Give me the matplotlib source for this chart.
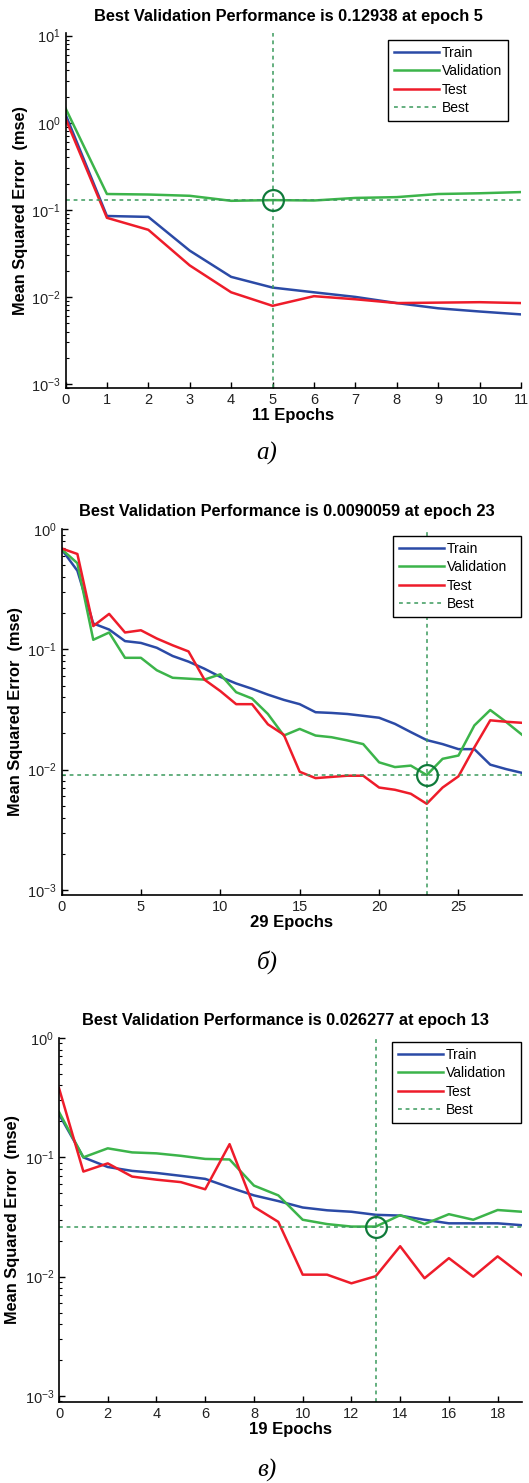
import numpy as np
import matplotlib.pyplot as plt
from matplotlib.lines import Line2D

plt.rcParams['font.family'] = ['Liberation Sans', 'DejaVu Sans']

# panel a) - 11 epochs
train_a = [1.25, 0.085, 0.083, 0.034, 0.017, 0.0128, 0.0113, 0.0100, 0.0085, 0.0074, 0.0068, 0.0063]
val_a = [1.47, 0.152, 0.150, 0.145, 0.127, 0.12938, 0.128, 0.137, 0.140, 0.152, 0.155, 0.160]
test_a = [1.12, 0.081, 0.059, 0.023, 0.0113, 0.0079, 0.0102, 0.0094, 0.0085, 0.0086, 0.0087, 0.0085]
best_a = (5, 0.12938)

# panel б) - 29 epochs
train_b = [0.68, 0.45, 0.164, 0.146, 0.117, 0.113, 0.103, 0.088, 0.079, 0.069,
           0.059, 0.052, 0.047, 0.042, 0.038, 0.035, 0.030, 0.0296, 0.029, 0.028,
           0.027, 0.024, 0.0205, 0.0176, 0.0163, 0.0148, 0.0148, 0.0110, 0.0101, 0.0094]
val_b = [0.68, 0.52, 0.120, 0.138, 0.085, 0.085, 0.067, 0.058, 0.057, 0.056,
         0.062, 0.044, 0.039, 0.029, 0.0192, 0.0218, 0.0192, 0.0186, 0.0175, 0.0163,
         0.0115, 0.0105, 0.0108, 0.0090059, 0.0123, 0.0131, 0.0233, 0.0313, 0.0249, 0.0195]
test_b = [0.69, 0.62, 0.156, 0.197, 0.138, 0.144, 0.123, 0.108, 0.096, 0.056,
          0.045, 0.035, 0.035, 0.0238, 0.0195, 0.0096, 0.0085, 0.0087, 0.0089, 0.0089,
          0.0071, 0.0068, 0.0063, 0.0052, 0.0071, 0.0088, 0.0153, 0.0257, 0.0250, 0.0245]
best_b = (23, 0.0090059)

# panel в) - 19 epochs
train_c = [0.23, 0.100, 0.083, 0.077, 0.074, 0.070, 0.066, 0.056, 0.048, 0.043,
           0.038, 0.036, 0.035, 0.033, 0.0325, 0.030, 0.028, 0.028, 0.028, 0.027]
val_c = [0.24, 0.100, 0.119, 0.110, 0.108, 0.103, 0.097, 0.096, 0.058, 0.048,
         0.030, 0.0276, 0.0263, 0.026277, 0.0328, 0.0276, 0.0334, 0.030, 0.0362, 0.035]
test_c = [0.38, 0.076, 0.089, 0.069, 0.065, 0.062, 0.054, 0.129, 0.0385, 0.0288,
          0.0104, 0.0104, 0.0088, 0.0101, 0.018, 0.0097, 0.0143, 0.010, 0.0148, 0.0103]
best_c = (13, 0.026277)

TRAIN_C = '#2b4aa6'
VAL_C = '#3cb44a'
TEST_C = '#ee1c2a'
BEST_C = '#3a9a5c'
CIRCLE_C = '#0f7a3a'

W, H = 529, 1483
fig = plt.figure(figsize=(W / 100, H / 100), dpi=100)
fig.patch.set_facecolor('white')


def px_rect(left, right, top, bottom):
    return [left / W, 1 - bottom / H, (right - left) / W, (bottom - top) / H]


def plot_perf(ax, train, val, test, best, title, xticks, ylim, leg_px, ylab_px):
    ep = np.arange(len(train))
    ax.plot(ep, train, color=TRAIN_C, lw=1.8)
    ax.plot(ep, val, color=VAL_C, lw=1.8)
    ax.plot(ep, test, color=TEST_C, lw=1.8)
    ax.axhline(best[1], color=BEST_C, lw=1.1, ls=(0, (2.5, 2.5)))
    ax.axvline(best[0], color=BEST_C, lw=1.1, ls=(0, (2.5, 2.5)))
    ax.plot([best[0]], [best[1]], 'o', ms=15, mfc='none', mec=CIRCLE_C, mew=1.6)

    ax.set_yscale('log')
    ax.set_ylim(*ylim)
    ax.set_xlim(0, len(train) - 1)
    ax.set_xticks(xticks)
    ax.spines['top'].set_visible(False)
    ax.spines['right'].set_visible(False)
    ax.spines['left'].set_linewidth(1.2)
    ax.spines['bottom'].set_linewidth(1.2)
    ax.tick_params(direction='in', labelsize=10.5, length=4, width=1, labelcolor='#222222')
    ax.tick_params(which='minor', direction='in', length=2.5, width=0.8)
    ax.tick_params(axis='x', which='minor', bottom=False)

    ax.set_title(title, fontsize=11.8, fontweight='bold', pad=9, x=0.49)
    ax.set_xlabel(f'{len(train) - 1} Epochs', fontsize=12, fontweight='bold', labelpad=1)
    ax.set_ylabel('Mean Squared Error  (mse)', fontsize=11.8, fontweight='bold')
    # right edge of the rotated label sits at ylab_px (figure pixels)
    x_ax = ax.transAxes.inverted().transform(fig.transFigure.transform((ylab_px / W, 0)))[0]
    ax.yaxis.set_label_coords(x_ax, 0.5)

    # legend box given in figure pixels: left, right, top
    x0, x1, top = leg_px
    handles = [Line2D([], [], color=TRAIN_C, lw=1.8),
               Line2D([], [], color=VAL_C, lw=1.8),
               Line2D([], [], color=TEST_C, lw=1.8),
               Line2D([], [], color=BEST_C, lw=1.1, ls=(0, (2.5, 2.5)))]
    leg = ax.legend(handles, ['Train', 'Validation', 'Test', 'Best'],
                    loc='upper left',
                    bbox_to_anchor=(x0 / W, 1 - top / H - 0.001, (x1 - x0) / W, 0.001),
                    bbox_transform=fig.transFigure, mode='expand', fontsize=10,
                    fancybox=False, framealpha=1, edgecolor='black',
                    handlelength=3.3, handletextpad=0.2, labelspacing=0.33,
                    borderpad=0.4, borderaxespad=0)
    leg.get_frame().set_linewidth(1.0)


ax_a = fig.add_axes(px_rect(65.5, 521, 33, 388))
plot_perf(ax_a, train_a, val_a, test_a, best_a,
          'Best Validation Performance is 0.12938 at epoch 5',
          range(0, 12), (10 ** -3.046, 10 ** 1.031), (388, 508, 40), 28)

ax_b = fig.add_axes(px_rect(61.5, 522, 529, 895))
plot_perf(ax_b, train_b, val_b, test_b, best_b,
          'Best Validation Performance is 0.0090059 at epoch 23',
          range(0, 30, 5), (10 ** -3.042, 1.0), (393, 521, 536), 23)

ax_c = fig.add_axes(px_rect(59, 522, 1038, 1402))
plot_perf(ax_c, train_c, val_c, test_c, best_c,
          'Best Validation Performance is 0.026277 at epoch 13',
          range(0, 20, 2), (10 ** -3.05, 1.0), (392, 521, 1042), 20)

for label, y in [('а)', 453), ('б)', 962), ('в)', 1470)]:
    fig.text(267 / W, 1 - y / H, label, fontsize=18, style='italic',
             family='Liberation Serif', ha='center', va='center')

fig.savefig('out.png', dpi=100)
